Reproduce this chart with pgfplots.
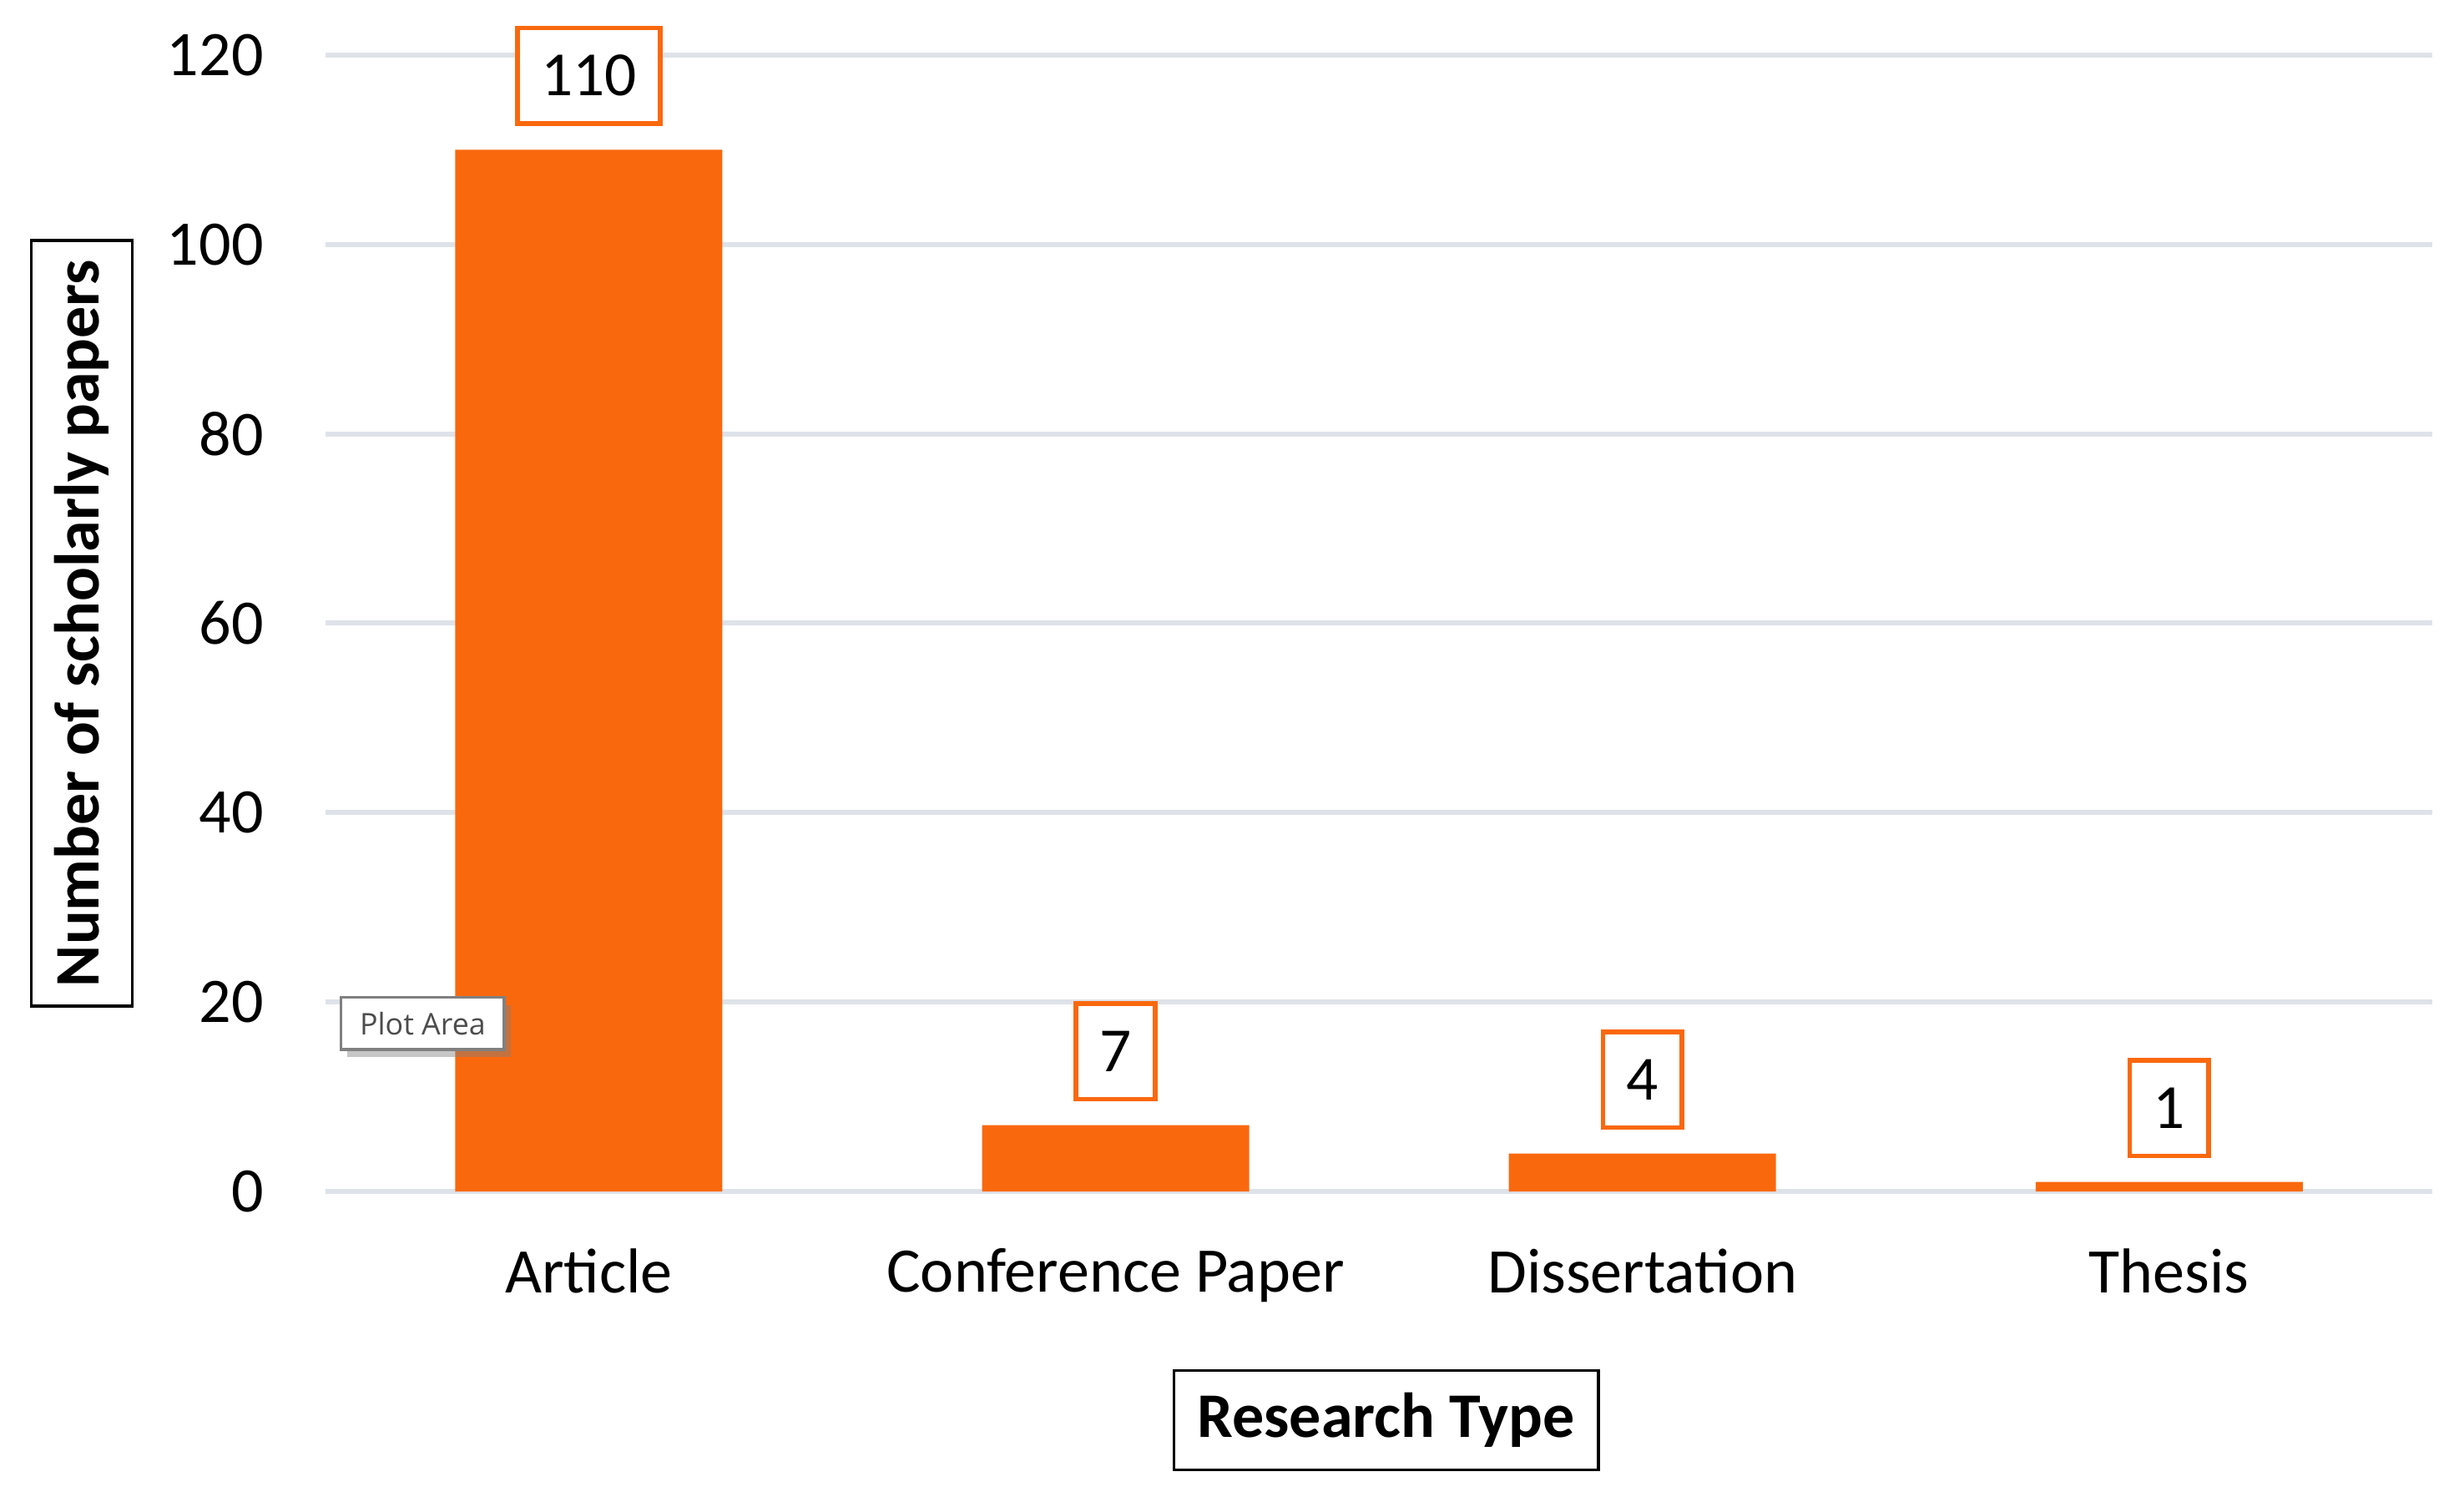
\documentclass[border=0pt]{standalone}
\usepackage{fontspec}
\setmainfont{Carlito}
\newfontfamily\tipfont{Open Sans}
\usepackage{pgfplots}
\pgfplotsset{compat=1.18}
\usetikzlibrary{shadows}
\definecolor{barorange}{RGB}{250,104,14}
\definecolor{gridgray}{RGB}{222,226,233}
\definecolor{tipgray}{RGB}{128,128,128}
\begin{document}
\begin{tikzpicture}
\begin{axis}[
  scale only axis, width=670.5pt, height=361.5pt,
  xmin=-0.5, xmax=3.5, ymin=0, ymax=120,
  axis line style={draw=none},
  ytick={0,20,...,120}, xtick={0,1,2,3},
  xticklabels={Article, Conference Paper, Dissertation, Thesis},
  major tick length=0pt,
  ymajorgrids, grid style={gridgray, line width=1.6pt},
  /pgf/number format/assume math mode=true,
  tick label style={font=\fontsize{20.2}{24}\selectfont},
  yticklabel style={anchor=east, inner sep=0pt, xshift=-19.5pt},
  xticklabel style={anchor=north, inner sep=0pt, yshift=-18pt},
  ybar, bar width=0.507,
  nodes near coords,
  nodes near coords style={draw=barorange, fill=white, line width=1.5pt,
    font=\fontsize{20}{24}\selectfont, anchor=south, yshift=7.5pt,
    minimum height=30.5pt, inner xsep=7.5pt, inner ysep=0pt},
  clip=false,
]
\addplot[fill=barorange, draw=none] coordinates {(0,110) (1,7) (2,4) (3,1)};
\coordinate (bl) at (rel axis cs:-0.1544,-0.2683);
\coordinate (tr) at (rel axis cs:1.0149,1.0484);
\node[draw=black, line width=0.9pt, rotate=90, font=\bfseries\fontsize{20.2}{24}\selectfont,
  minimum width=243.5pt, minimum height=32pt, inner sep=0pt]
  at (rel axis cs:-0.1156,0.5) {Number of scholarly papers};
\node[draw=black, line width=0.9pt, font=\bfseries\fontsize{20.2}{24}\selectfont,
  minimum width=135pt, minimum height=31.5pt, inner sep=0pt]
  at (rel axis cs:0.5034,-0.2012) {Research Type};
\node[draw=tipgray, line width=1pt, fill=white, text=black!70,
  font=\tipfont\fontsize{9.5}{11}\selectfont, minimum width=52pt, minimum height=16.5pt, inner sep=0pt,
  drop shadow={shadow xshift=2pt, shadow yshift=-2.5pt, opacity=0.45}]
  at (rel axis cs:0.0462,0.148) {Plot Area};
\end{axis}
\pgfresetboundingbox
\useasboundingbox (bl) rectangle (tr);
\end{tikzpicture}
\end{document}
